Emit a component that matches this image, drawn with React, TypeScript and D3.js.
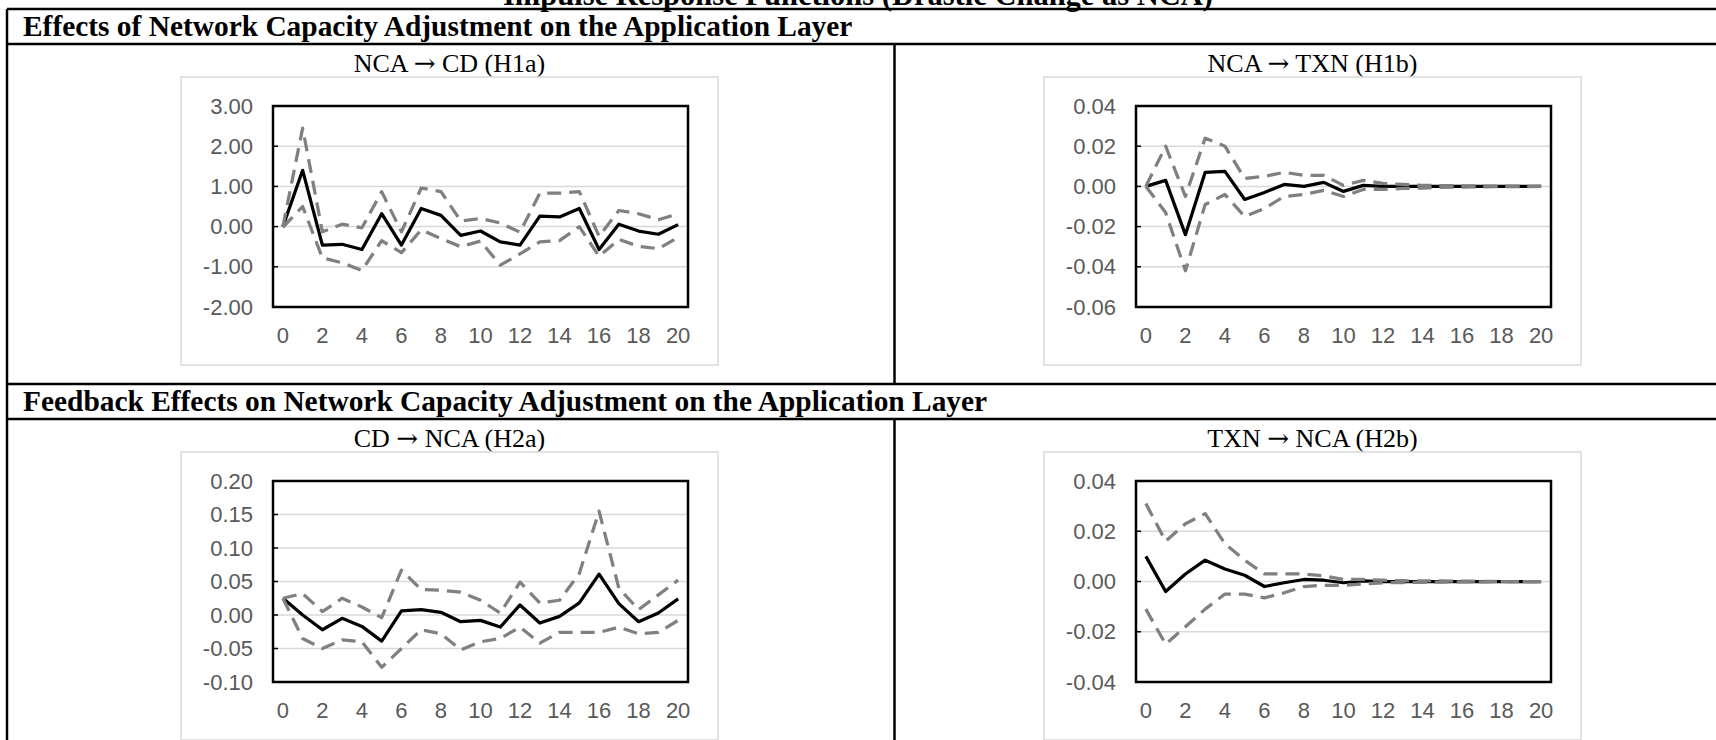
import React from "react";
import * as d3 from "d3";

// ---------- data ----------
const PERIODS = [0, 1, 2, 3, 4, 5, 6, 7, 8, 9, 10, 11, 12, 13, 14, 15, 16, 17, 18, 19, 20];
const X_TICK_LABELS = ["0", "2", "4", "6", "8", "10", "12", "14", "16", "18", "20"];

const MAIN_TITLE = "Impulse Response Functions (Drastic Change as NCA)";
const SECTION_TITLES = [
  "Effects of Network Capacity Adjustment on the Application Layer",
  "Feedback Effects on Network Capacity Adjustment on the Application Layer",
];
// [from, to, hypothesis]
const CHART_TITLES = [
  ["NCA", "CD", "(H1a)"],
  ["NCA", "TXN", "(H1b)"],
  ["CD", "NCA", "(H2a)"],
  ["TXN", "NCA", "(H2b)"],
];

// NCA -> CD (H1a)
const H1A_TICKS = [3, 2, 1, 0, -1, -2];
const H1A_IRF = [0.0, 1.4, -0.46, -0.44, -0.57, 0.32, -0.46, 0.45, 0.28, -0.22, -0.11, -0.38, -0.46, 0.26, 0.24, 0.45, -0.57, 0.06, -0.11, -0.19, 0.05];
const H1A_UP = [0.0, 2.45, -0.13, 0.06, -0.03, 0.87, -0.13, 0.96, 0.87, 0.14, 0.2, 0.09, -0.14, 0.83, 0.83, 0.87, -0.24, 0.4, 0.32, 0.17, 0.32];
const H1A_LO = [-0.02, 0.5, -0.78, -0.9, -1.09, -0.35, -0.65, -0.08, -0.3, -0.5, -0.36, -0.96, -0.68, -0.38, -0.35, 0.0, -0.74, -0.32, -0.49, -0.55, -0.27];

// NCA -> TXN (H1b)
const H1B_TICKS = [0.04, 0.02, 0.0, -0.02, -0.04, -0.06];
const H1B_IRF = [0.0, 0.003, -0.024, 0.007, 0.0075, -0.0065, -0.003, 0.001, 0.0, 0.002, -0.0025, 0.0005, 0.0, 0.0, 0.0, 0.0, 0.0, 0.0, 0.0, 0.0, 0.0];
const H1B_UP = [0.0, 0.02, -0.005, 0.024, 0.02, 0.004, 0.005, 0.007, 0.0055, 0.0055, 0.0005, 0.003, 0.0015, 0.001, 0.0005, 0.0004, 0.0003, 0.0002, 0.0001, 0.0001, 0.0];
const H1B_LO = [0.0, -0.013, -0.042, -0.009, -0.004, -0.015, -0.011, -0.005, -0.004, -0.002, -0.005, -0.0015, -0.0015, -0.001, -0.0008, -0.0005, -0.0003, -0.0002, -0.0001, -0.0001, 0.0];

// CD -> NCA (H2a)
const H2A_TICKS = [0.2, 0.15, 0.1, 0.05, 0.0, -0.05, -0.1];
const H2A_IRF = [0.025, 0.0, -0.022, -0.005, -0.017, -0.039, 0.006, 0.008, 0.004, -0.01, -0.008, -0.018, 0.015, -0.012, -0.002, 0.018, 0.061, 0.017, -0.01, 0.003, 0.024];
const H2A_UP = [0.025, 0.032, 0.005, 0.025, 0.012, -0.004, 0.067, 0.038, 0.037, 0.034, 0.022, 0.003, 0.049, 0.018, 0.022, 0.062, 0.155, 0.04, 0.008, 0.03, 0.052];
const H2A_LO = [0.025, -0.035, -0.05, -0.037, -0.04, -0.078, -0.05, -0.022, -0.028, -0.052, -0.04, -0.035, -0.018, -0.042, -0.026, -0.026, -0.026, -0.018, -0.028, -0.026, -0.008];

// TXN -> NCA (H2b)
const H2B_TICKS = [0.04, 0.02, 0.0, -0.02, -0.04];
const H2B_IRF = [0.01, -0.004, 0.003, 0.0085, 0.005, 0.0025, -0.002, -0.0005, 0.0008, 0.0005, -0.0005, 0.0002, 0.0, 0.0, 0.0, 0.0, 0.0, 0.0, 0.0, 0.0, 0.0];
const H2B_UP = [0.031, 0.016, 0.023, 0.027, 0.015, 0.0085, 0.003, 0.003, 0.003, 0.0022, 0.0008, 0.0008, 0.0005, 0.0003, 0.0002, 0.0002, 0.0001, 0.0001, 0.0, 0.0, 0.0];
const H2B_LO = [-0.011, -0.025, -0.018, -0.011, -0.005, -0.005, -0.0065, -0.0045, -0.002, -0.0015, -0.0015, -0.001, -0.0005, -0.0004, -0.0003, -0.0002, -0.0001, -0.0001, 0.0, 0.0, 0.0];

// ---------- layout ----------
const W = 1716;
const H = 740;
const SERIF = "'Liberation Serif', 'Times New Roman', serif";
const ARROW_FONT = "'DejaVu Serif', serif";
const SANS = "'Liberation Sans', Arial, sans-serif";
const LABEL_COLOR = "#595959";
const GRID_COLOR = "#d9d9d9";
const BAND_COLOR = "#808080";

const fmtLocale = d3.formatLocale({ decimal: ".", thousands: ",", grouping: [3], currency: ["", ""], minus: "-" });
const fmt2 = fmtLocale.format(".2f");

type ChartSpec = {
  title: string[];
  boxLeft: number;
  boxTop: number;
  ticks: number[];
  irf: number[];
  up: number[];
  lo: number[];
};

const COL_X = [181, 1044];
const ROW_Y = [77, 452];

const CHARTS: ChartSpec[] = [
  { title: CHART_TITLES[0], boxLeft: COL_X[0], boxTop: ROW_Y[0], ticks: H1A_TICKS, irf: H1A_IRF, up: H1A_UP, lo: H1A_LO },
  { title: CHART_TITLES[1], boxLeft: COL_X[1], boxTop: ROW_Y[0], ticks: H1B_TICKS, irf: H1B_IRF, up: H1B_UP, lo: H1B_LO },
  { title: CHART_TITLES[2], boxLeft: COL_X[0], boxTop: ROW_Y[1], ticks: H2A_TICKS, irf: H2A_IRF, up: H2A_UP, lo: H2A_LO },
  { title: CHART_TITLES[3], boxLeft: COL_X[1], boxTop: ROW_Y[1], ticks: H2B_TICKS, irf: H2B_IRF, up: H2B_UP, lo: H2B_LO },
];

const BOX_W = 537;
const BOX_H = 288;
const PLOT_DX = 92;
const PLOT_W = 415;
const PLOT_DY = 29;
const PLOT_H = 201;

function Chart({ spec }: { spec: ChartSpec }) {
  const pl = spec.boxLeft + PLOT_DX;
  const pr = pl + PLOT_W;
  const pt = spec.boxTop + PLOT_DY;
  const pb = pt + PLOT_H;
  const x = d3.scalePoint<number>().domain(PERIODS).range([pl, pr]).padding(0.5);
  const y = d3
    .scaleLinear()
    .domain([d3.min(spec.ticks) as number, d3.max(spec.ticks) as number])
    .range([pb, pt]);
  const line = d3
    .line<number>()
    .x((_, i) => x(PERIODS[i]) as number)
    .y((d) => y(d));
  const cx = spec.boxLeft + BOX_W / 2;
  return (
    <g>
      <text x={cx} y={spec.boxTop - 5} textAnchor="middle" fontFamily={SERIF} fontSize={26} fill="#000">
        {spec.title[0] + " "}
        <tspan fontFamily={ARROW_FONT} fontSize={26}>→</tspan>
        {" " + spec.title[1] + " " + spec.title[2]}
      </text>
      <rect x={spec.boxLeft} y={spec.boxTop} width={BOX_W} height={BOX_H} fill="#fff" stroke={GRID_COLOR} strokeWidth={1.5} />
      {spec.ticks.map((t) => (
        <line key={"g" + t} x1={pl} x2={pr} y1={y(t)} y2={y(t)} stroke={GRID_COLOR} strokeWidth={1.5} />
      ))}
      <path d={line(spec.irf) || ""} fill="none" stroke="#000" strokeWidth={3.25} strokeLinejoin="round" />
      <path d={line(spec.up) || ""} fill="none" stroke={BAND_COLOR} strokeWidth={3.25} strokeDasharray="14 8" strokeLinejoin="round" />
      <path d={line(spec.lo) || ""} fill="none" stroke={BAND_COLOR} strokeWidth={3.25} strokeDasharray="14 8" strokeLinejoin="round" />
      <rect x={pl} y={pt} width={PLOT_W} height={PLOT_H} fill="none" stroke="#000" strokeWidth={2.5} />
      {spec.ticks.map((t) => (
        <line key={"t" + t} x1={pl} x2={pl + 5} y1={y(t)} y2={y(t)} stroke="#000" strokeWidth={1.5} />
      ))}
      {spec.ticks.map((t) => (
        <text key={"l" + t} x={pl - 20} y={y(t) + 7.5} textAnchor="end" fontFamily={SANS} fontSize={22} fill={LABEL_COLOR}>
          {fmt2(t)}
        </text>
      ))}
      {X_TICK_LABELS.map((lab) => (
        <text key={"x" + lab} x={x(+lab) as number} y={pb + 36} textAnchor="middle" fontFamily={SANS} fontSize={22} fill={LABEL_COLOR}>
          {lab}
        </text>
      ))}
    </g>
  );
}

export default function App() {
  const tableLeft = 7;
  const tableRight = W + 10;
  const divX = 894.5;
  const r1Top = 9;
  const r1HeadBottom = 44;
  const r2Top = 384;
  const r2HeadBottom = 419;
  const lw = 2.5;
  return (
    <svg width={W} height={H} style={{ position: "absolute", left: 0, top: 0, background: "#fff" }}>
      <rect x={0} y={0} width={W} height={H} fill="#fff" />
      <text x={858} y={5} textAnchor="middle" fontFamily={SERIF} fontWeight="bold" fontSize={30.5} fill="#000">
        {MAIN_TITLE}
      </text>
      {/* table lines */}
      <line x1={tableLeft} x2={tableRight} y1={r1Top} y2={r1Top} stroke="#000" strokeWidth={lw} />
      <line x1={tableLeft} x2={tableRight} y1={r1HeadBottom} y2={r1HeadBottom} stroke="#000" strokeWidth={lw} />
      <line x1={tableLeft} x2={tableRight} y1={r2Top} y2={r2Top} stroke="#000" strokeWidth={lw} />
      <line x1={tableLeft} x2={tableRight} y1={r2HeadBottom} y2={r2HeadBottom} stroke="#000" strokeWidth={lw} />
      <line x1={tableLeft} x2={tableLeft} y1={r1Top} y2={H + 5} stroke="#000" strokeWidth={lw} />
      <line x1={divX} x2={divX} y1={r1HeadBottom} y2={r2Top} stroke="#000" strokeWidth={lw} />
      <line x1={divX} x2={divX} y1={r2HeadBottom} y2={H + 5} stroke="#000" strokeWidth={lw} />
      <text x={23} y={36} fontFamily={SERIF} fontWeight="bold" fontSize={29.4} fill="#000">
        {SECTION_TITLES[0]}
      </text>
      <text x={23} y={411} fontFamily={SERIF} fontWeight="bold" fontSize={29.4} fill="#000">
        {SECTION_TITLES[1]}
      </text>
      {CHARTS.map((c, i) => (
        <Chart key={i} spec={c} />
      ))}
    </svg>
  );
}
